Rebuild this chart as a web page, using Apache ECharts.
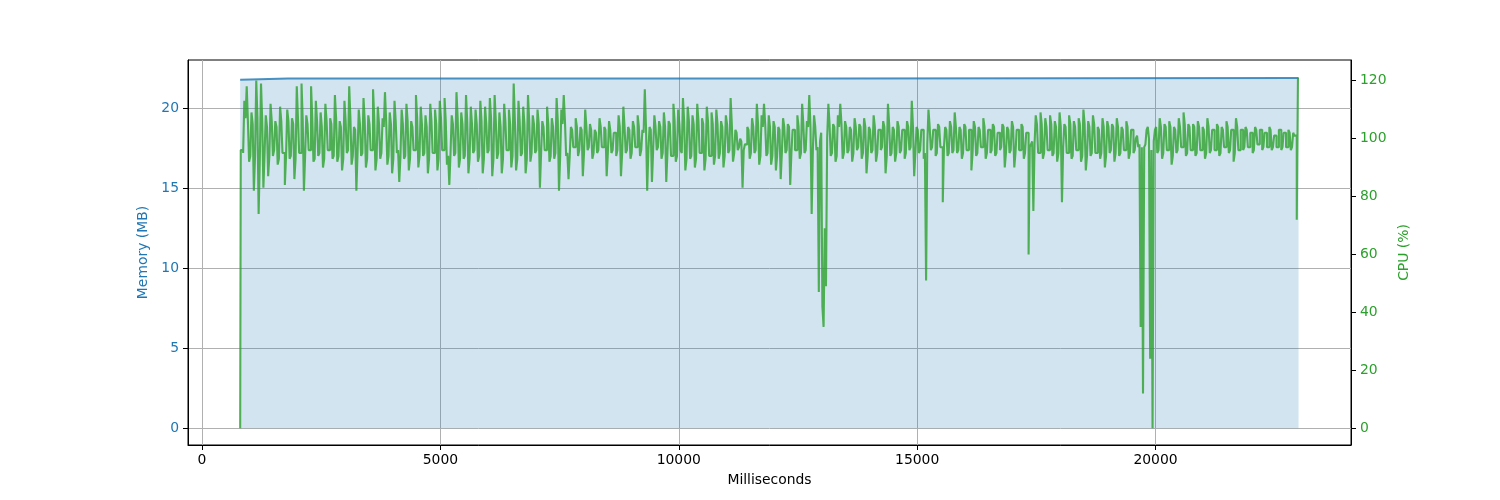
<!DOCTYPE html>
<html>
<head>
<meta charset="utf-8">
<script src="https://cdn.jsdelivr.net/npm/echarts@6/dist/echarts.min.js"></script>
<style>html,body{margin:0;padding:0;background:#fff}#c{width:1500px;height:500px}</style>
</head>
<body>
<div id="c"></div>
<script>
// Tick labels
const xTicks = [0, 5000, 10000, 15000, 20000];
const memTicks = [0, 5, 10, 15, 20];
const cpuTicks = [0, 20, 40, 60, 80, 100, 120];

// Memory (MB) samples: [ms, MB]
const memTimes = [800, 1800, 13000, 23000];
const memValues = [21.78, 21.87, 21.87, 21.9];

// CPU (%) samples every 50 ms starting at 800 ms
const cpuStartMs = 800;
const cpuStepMs = 50;
const cpuValues = [
  0, 96, 113, 118, 92, 109, 82, 120, 74, 119, 83, 108, 87, 112, 94, 106, 91, 111, 95, 84,
  110, 93, 107, 86, 118, 95, 119, 82, 108, 96, 118, 92, 113, 94, 109, 90, 112, 96, 107, 93,
  115, 92, 106, 89, 113, 95, 118, 91, 104, 82, 110, 94, 114, 90, 108, 96, 117, 89, 111, 93,
  107, 116, 91, 109, 88, 113, 95, 85, 110, 93, 112, 89, 106, 96, 115, 90, 111, 94, 108, 88,
  112, 95, 110, 89, 113, 96, 114, 91, 84, 108, 94, 116, 90, 109, 93, 115, 88, 111, 95, 110,
  92, 113, 88, 111, 95, 114, 87, 115, 93, 109, 88, 112, 96, 110, 90, 119, 89, 113, 94, 111,
  88, 115, 92, 108, 95, 110, 83, 106, 96, 111, 92, 107, 93, 114, 82, 110, 115, 94, 86, 104,
  97, 107, 94, 104, 87, 110, 96, 105, 93, 103, 95, 107, 97, 104, 87, 106, 95, 102, 94, 108,
  87, 111, 95, 104, 93, 106, 97, 108, 94, 103, 117, 82, 104, 85, 108, 96, 106, 93, 109, 85,
  106, 94, 112, 92, 110, 96, 114, 89, 111, 93, 108, 90, 112, 95, 107, 89, 111, 94, 109, 91,
  110, 93, 106, 90, 108, 95, 114, 92, 103, 96, 100, 83, 98, 104, 93, 107, 95, 112, 91, 108,
  112, 94, 108, 91, 106, 89, 104, 86, 107, 95, 105, 84, 103, 96, 108, 93, 112, 95, 106, 115,
  74, 108, 96, 47, 102, 35, 49, 112, 94, 105, 92, 108, 112, 93, 106, 95, 104, 92, 107, 96,
  105, 93, 107, 88, 104, 95, 108, 92, 103, 96, 106, 88, 112, 94, 104, 92, 106, 95, 103, 93,
  106, 96, 113, 87, 104, 95, 103, 93, 51, 110, 96, 103, 94, 105, 97, 78, 104, 94, 106, 95,
  109, 95, 104, 93, 105, 96, 103, 89, 106, 94, 104, 97, 107, 93, 103, 95, 105, 94, 102, 96,
  105, 90, 104, 95, 106, 90, 103, 96, 105, 93, 102, 60, 98, 75, 108, 95, 109, 93, 107, 96,
  108, 94, 106, 92, 109, 78, 105, 95, 108, 93, 106, 96, 107, 92, 110, 89, 106, 94, 108, 95,
  104, 93, 107, 90, 106, 95, 105, 92, 107, 94, 104, 96, 106, 93, 103, 95, 100, 97, 35, 12,
  98, 104, 24, 0, 103, 95, 107, 93, 105, 96, 106, 91, 104, 95, 107, 97, 109, 94, 105, 96,
  105, 94, 106, 96, 104, 93, 107, 95, 103, 96, 105, 94, 104, 97, 106, 95, 103, 92, 107, 96,
  103, 96, 104, 97, 102, 95, 104, 98, 103, 96, 102, 97, 104, 96, 101, 97, 103, 96, 102, 97,
  103, 96, 102, 101, 121
];
// CPU (%) samples in between, at 825 ms, 875 ms, ...
const cpuMidValues = [
  96, 95, 107, 106, 94, 105, 94, 107, 93, 106, 95, 104, 94, 106, 96, 104, 93, 106, 95, 94,
  106, 94, 105, 93, 107, 95, 106, 94, 105, 96, 107, 93, 106, 95, 104, 93, 106, 96, 105, 94,
  107, 94, 104, 93, 106, 96, 107, 94, 103, 95, 105, 95, 106, 93, 105, 96, 107, 93, 105, 95,
  104, 106, 94, 105, 93, 106, 96, 94, 105, 94, 106, 93, 104, 96, 107, 94, 105, 95, 104, 93,
  106, 95, 105, 93, 107, 96, 106, 94, 95, 105, 95, 107, 93, 105, 94, 106, 93, 105, 96, 105,
  94, 106, 93, 105, 96, 107, 93, 106, 95, 104, 93, 106, 96, 105, 94, 106, 93, 106, 95, 105,
  93, 106, 95, 105, 96, 105, 95, 104, 96, 105, 94, 104, 95, 106, 94, 105, 106, 95, 94, 103,
  97, 104, 96, 103, 95, 104, 97, 103, 95, 102, 96, 104, 97, 103, 95, 103, 96, 102, 96, 104,
  95, 104, 96, 103, 95, 104, 97, 104, 96, 102, 104, 96, 103, 96, 104, 97, 104, 95, 104, 95,
  105, 94, 106, 94, 105, 95, 106, 93, 106, 94, 105, 93, 106, 95, 105, 93, 106, 94, 105, 94,
  105, 95, 104, 94, 105, 96, 105, 95, 102, 97, 99, 96, 98, 103, 95, 104, 96, 105, 94, 104,
  105, 95, 104, 94, 104, 94, 103, 95, 104, 96, 104, 95, 103, 96, 104, 95, 105, 96, 104, 104,
  96, 104, 97, 99, 42, 69, 100, 105, 95, 104, 94, 104, 105, 95, 104, 96, 103, 95, 104, 97,
  104, 95, 104, 94, 103, 96, 104, 95, 103, 97, 104, 94, 105, 95, 103, 95, 104, 96, 103, 95,
  104, 97, 104, 95, 103, 96, 103, 95, 98, 104, 97, 103, 95, 104, 97, 97, 103, 95, 104, 96,
  104, 96, 103, 95, 104, 96, 103, 95, 104, 95, 103, 97, 104, 95, 103, 96, 104, 95, 102, 97,
  104, 95, 103, 96, 104, 95, 103, 96, 104, 95, 102, 97, 99, 98, 105, 95, 105, 95, 104, 96,
  105, 95, 104, 95, 104, 97, 104, 95, 105, 94, 104, 96, 105, 94, 105, 94, 104, 95, 105, 95,
  103, 95, 104, 94, 104, 96, 104, 95, 104, 95, 103, 96, 104, 95, 103, 96, 101, 98, 97, 97,
  103, 100, 96, 99, 104, 96, 104, 95, 104, 96, 104, 94, 103, 96, 104, 97, 105, 95, 104, 96,
  104, 95, 104, 96, 103, 95, 104, 96, 103, 96, 104, 95, 103, 97, 104, 96, 103, 95, 104, 96,
  103, 97, 103, 97, 102, 96, 103, 98, 103, 97, 102, 97, 103, 97, 101, 97, 103, 97, 102, 97,
  102, 97, 101, 72
];

const memData = memTimes.map((t, i) => [t, memValues[i]]);
const cpuData = [];
cpuValues.forEach((v, i) => {
  cpuData.push([cpuStartMs + cpuStepMs * i, v]);
  if (i < cpuMidValues.length) cpuData.push([cpuStartMs + cpuStepMs * i + cpuStepMs / 2, cpuMidValues[i]]);
});

const FONT = 'DejaVu Sans';
const FS = 13.9;
const chart = echarts.init(document.getElementById('c'), null, {renderer: 'canvas'});
chart.setOption({
  animation: false,
  backgroundColor: '#ffffff',
  grid: {left: 188, right: 149, top: 60, bottom: 55, show: true, borderColor: '#000', borderWidth: 1, backgroundColor: 'transparent'},
  xAxis: {
    type: 'value', min: -294, max: 24100,
    name: 'Milliseconds', nameLocation: 'middle', nameGap: 28,
    nameTextStyle: {fontFamily: FONT, fontSize: FS, color: '#000'},
    axisLine: {show: true, onZero: false, lineStyle: {color: '#000', width: 1}},
    axisTick: {show: true, length: 5, lineStyle: {color: '#000', width: 1}, customValues: xTicks},
    axisLabel: {customValues: xTicks, margin: 8, fontFamily: FONT, fontSize: FS, color: '#000', formatter: v => String(v)},
    splitLine: {show: true, lineStyle: {color: '#b0b0b0', width: 1}}
  },
  yAxis: [{
    type: 'value', position: 'left', min: -1.04, max: 23.02,
    name: 'Memory (MB)', nameLocation: 'middle', nameGap: 30,
    nameTextStyle: {fontFamily: FONT, fontSize: FS, color: '#1f77b4'},
    axisLine: {show: true, onZero: false, lineStyle: {color: '#000', width: 1}},
    axisTick: {show: true, length: 5, lineStyle: {color: '#000', width: 1}, customValues: memTicks},
    axisLabel: {customValues: memTicks, margin: 9, fontFamily: FONT, fontSize: FS, color: '#1f77b4', formatter: v => String(v)},
    splitLine: {show: true, lineStyle: {color: '#b0b0b0', width: 1}}
  }, {
    type: 'value', position: 'right', min: -5.76, max: 127.1,
    name: 'CPU (%)', nameLocation: 'middle', nameGap: 34, nameRotate: 90,
    nameTextStyle: {fontFamily: FONT, fontSize: FS, color: '#2ca02c'},
    axisLine: {show: true, onZero: false, lineStyle: {color: '#000', width: 1}},
    axisTick: {show: true, length: 5, lineStyle: {color: '#000', width: 1}, customValues: cpuTicks},
    axisLabel: {customValues: cpuTicks, margin: 9, fontFamily: FONT, fontSize: FS, color: '#2ca02c', formatter: v => String(v)},
    splitLine: {show: false}
  }],
  series: [{
    name: 'Memory', type: 'line', yAxisIndex: 0, data: memData,
    showSymbol: false, symbol: 'none',
    lineStyle: {color: '#1f77b4', width: 2, opacity: 0.8},
    areaStyle: {color: '#1f77b4', opacity: 0.2},
    z: 2
  }, {
    name: 'CPU', type: 'line', yAxisIndex: 1, data: cpuData,
    showSymbol: false, symbol: 'none', sampling: null, step: 'middle',
    lineStyle: {color: '#2ca02c', width: 2.1, opacity: 0.8},
    z: 3
  }]
});
</script>
</body>
</html>
